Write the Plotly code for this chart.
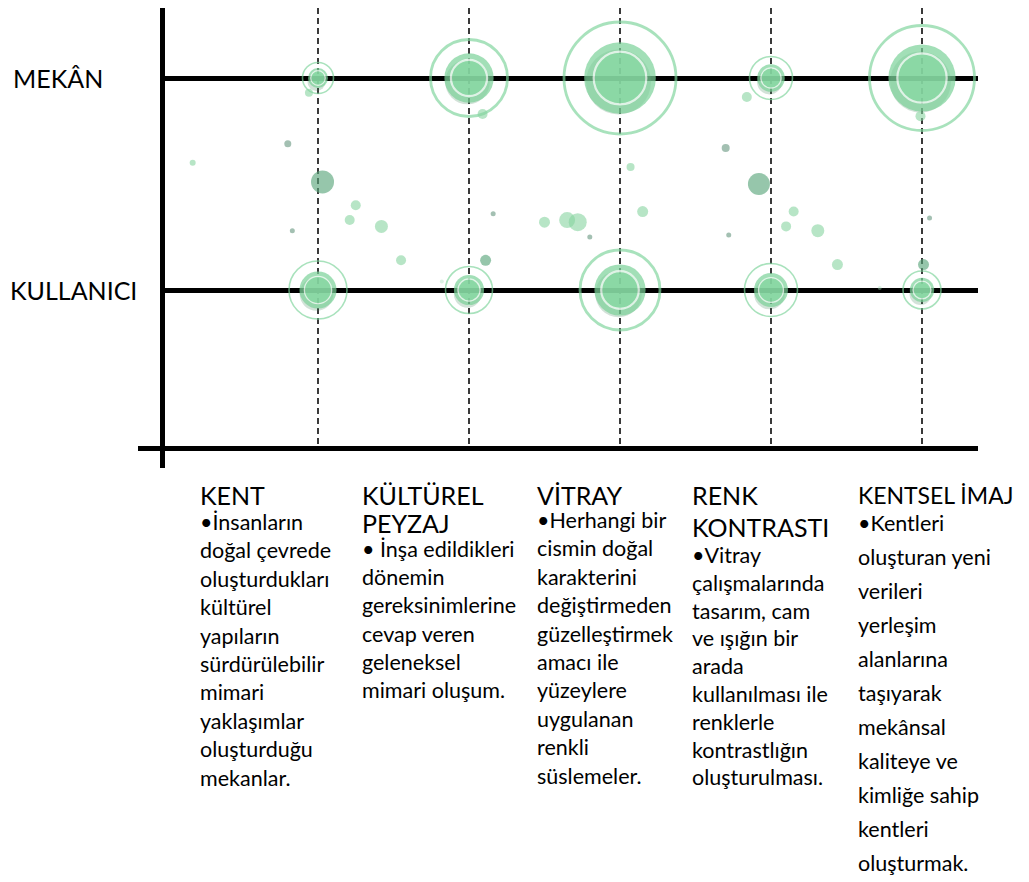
import plotly.graph_objects as go

# ---------------- data ----------------
categories = ["KENT", "KÜLTÜREL PEYZAJ", "VİTRAY", "RENK KONTRASTI", "KENTSEL İMAJ"]
rows = ["KULLANICI", "MEKÂN"]          # y = 0, 1

# bubble scores (outer ring) per category
mekan_score = [3.1, 7.7, 11.2, 4.3, 10.5]
kullanici_score = [5.8, 4.7, 8.0, 5.3, 3.8]

# scattered dots between rows (x in category units, y in row units)
dot_x = [-0.83, -0.20, 0.03, 0.25, 0.21, 0.42, -0.17, 0.55, 1.11, 1.16, 1.50, 1.65, 1.72, 1.80,
         2.07, 2.15, 2.70, 2.92, 2.72, 3.15, 3.10, 3.31, 3.44, 4.05, 4.01, 3.72, 0.82,
         -0.06, 1.09, 2.84, 3.99]
dot_y = [0.60, 0.69, 0.51, 0.40, 0.33, 0.30, 0.28, 0.14, 0.14, 0.36, 0.32, 0.33, 0.32, 0.25,
         0.58, 0.37, 0.67, 0.50, 0.26, 0.37, 0.30, 0.28, 0.12, 0.34, 0.12, 0.01, 0.04,
         0.93, 0.83, 0.91, 0.82]
dot_w = [3, 3.5, 11.5, 5, 5, 6.5, 2.5, 5, 5.5, 2.5, 5.5, 8, 9, 2.5,
         4, 5.5, 4, 11, 2.5, 5, 5, 6.5, 5.5, 2.5, 5.5, 2, 2,
         4, 5, 5, 5]
dot_kind = ["L", "D", "M", "L", "L", "L", "D", "L", "M", "D", "L", "L", "L", "D",
            "L", "L", "D", "M", "D", "L", "L", "L", "L", "D", "M", "F", "F",
            "L", "L", "L", "L"]

col_titles = [["KENT"], ["KÜLTÜREL", "PEYZAJ"], ["VİTRAY"], ["RENK", "KONTRASTI"], ["KENTSEL İMAJ"]]
col_bodies = [
    ["•İnsanların", "doğal çevrede", "oluşturdukları", "kültürel", "yapıların",
     "sürdürülebilir", "mimari", "yaklaşımlar", "oluşturduğu", "mekanlar."],
    ["• İnşa edildikleri", "dönemin", "gereksinimlerine", "cevap veren", "geleneksel",
     "mimari oluşum."],
    ["•Herhangi bir", "cismin doğal", "karakterini", "değiştirmeden", "güzelleştirmek",
     "amacı ile", "yüzeylere", "uygulanan", "renkli", "süslemeler."],
    ["•Vitray", "çalışmalarında", "tasarım, cam", "ve ışığın bir", "arada",
     "kullanılması ile", "renklerle", "kontrastlığın", "oluşturulması."],
    ["•Kentleri", "oluşturan yeni", "verileri", "yerleşim", "alanlarına", "taşıyarak",
     "mekânsal", "kaliteye ve", "kimliğe sahip", "kentleri", "oluşturmak."],
]

# ---------------- geometry / style ----------------
PAGE_W, PAGE_H = 1029, 882
OFF = 8                      # default body margin of the html page
W, H = PAGE_W - OFF, PAGE_H - OFF
FONT = "Lato"
px_size = 10.0               # px per score unit
cat_idx = list(range(len(categories)))

X0, X1 = 165, 978            # plot area in page px
Y0, Y1 = OFF, 446
def py(p):                   # page pixel y -> paper y
    return min(1.0, max(0.0, (H - (p - OFF)) / H))
def pxr(p):                  # page pixel x -> paper x
    return min(1.0, max(0.0, (p - OFF) / W))

row_px = {0: 290, 1: 78}
span = row_px[0] - row_px[1]
col_px0, col_step = 318, 151

fig = go.Figure()

ring_col = "rgba(125,212,155,0.95)"
disc_col = "#7bd298"
inner_col = "#88d9a3"
shadow_col = "rgba(70,135,95,0.35)"

for rv, scores in ((1, mekan_score), (0, kullanici_score)):
    sizes = [s * px_size for s in scores]
    ys = [rv] * len(cat_idx)
    fig.add_trace(go.Scatter(x=cat_idx, y=ys, mode="markers", hoverinfo="skip",
                             marker=dict(size=sizes, color="rgba(0,0,0,0)",
                                         line=dict(color=ring_col, width=[2.8 if s > 60 else 1.6 for s in sizes]))))
    # soft shadow under the disc (shifted a few px down)
    fig.add_trace(go.Scatter(x=[c - 1.5 / col_step for c in cat_idx], y=[rv - 4 / span] * len(cat_idx),
                             mode="markers", hoverinfo="skip",
                             marker=dict(size=[s * 0.58 for s in sizes], color=shadow_col,
                                         line=dict(width=0))))
    fig.add_trace(go.Scatter(x=cat_idx, y=ys, mode="markers", hoverinfo="skip",
                             marker=dict(size=[s * 0.64 for s in sizes], color=disc_col,
                                         line=dict(width=0))))
    fig.add_trace(go.Scatter(x=cat_idx, y=ys, mode="markers", hoverinfo="skip",
                             marker=dict(size=[s * 0.47 for s in sizes], color=inner_col,
                                         line=dict(color="white", width=[2.2 if s > 60 else 1.3 for s in sizes]))))

kind_col = {"L": "rgba(135,212,160,0.85)", "M": "rgba(88,165,122,0.9)",
            "D": "rgba(100,150,125,0.85)", "F": "rgba(165,220,185,0.55)"}
fig.add_trace(go.Scatter(x=dot_x, y=dot_y, mode="markers", hoverinfo="skip",
                         marker=dict(size=[w * 2 for w in dot_w],
                                     color=[kind_col[k] for k in dot_kind],
                                     line=dict(width=0))))

# ---------------- axes ----------------
y_lo = (row_px[0] - Y1) / span
y_hi = (row_px[0] - Y0) / span
x_lo = (X0 - col_px0) / col_step
x_hi = (X1 - col_px0) / col_step

fig.update_xaxes(domain=[pxr(X0), pxr(X1)], range=[x_lo, x_hi], tickvals=cat_idx,
                 showticklabels=False, ticks="", showgrid=True, gridcolor="#3a3a3a",
                 gridwidth=1.6, griddash="6px,4px", zeroline=False,
                 showline=True, linecolor="black", linewidth=5)
fig.update_yaxes(domain=[py(Y1), py(Y0)], range=[y_lo, y_hi], tickvals=[0, 1],
                 showticklabels=False, ticks="", showgrid=True, gridcolor="black",
                 gridwidth=5, zeroline=False, showline=True, linecolor="black", linewidth=5)

# axis extensions
fig.add_shape(type="line", xref="paper", yref="paper", x0=pxr(138), x1=pxr(X0),
              y0=py(Y1 + 2.5), y1=py(Y1 + 2.5), line=dict(color="black", width=5))
fig.add_shape(type="line", xref="paper", yref="paper", x0=pxr(X0 - 2.5), x1=pxr(X0 - 2.5),
              y0=py(Y1), y1=py(468), line=dict(color="black", width=5))

# row labels
fig.add_annotation(text="MEKÂN", x=pxr(11), xref="paper", xanchor="left", y=1, yref="y",
                   yanchor="middle", showarrow=False, font=dict(family=FONT, size=25, color="black"))
fig.add_annotation(text="KULLANICI", x=pxr(8), xref="paper", xanchor="left", y=0, yref="y",
                   yanchor="middle", showarrow=False, font=dict(family=FONT, size=25, color="black"))

# column texts
col_left = [198, 360, 535, 690, 856]
title_size = [25, 25, 25, 25, 23]
title_step = [28, 28, 28, 32, 28]
body_start = [522, 549, 520, 555, 523]
body_step = [28.4, 28.2, 28.4, 27.8, 34.0]
for i in range(len(categories)):
    for j, t in enumerate(col_titles[i]):
        fig.add_annotation(text=t, x=pxr(col_left[i]), xref="paper", xanchor="left",
                           y=py(495 + j * title_step[i]), yref="paper", yanchor="middle",
                           showarrow=False, font=dict(family=FONT, size=title_size[i], color="black"))
    for j, t in enumerate(col_bodies[i]):
        fig.add_annotation(text=t, x=pxr(col_left[i]), xref="paper", xanchor="left",
                           y=py(body_start[i] + j * body_step[i]), yref="paper", yanchor="middle",
                           showarrow=False, font=dict(family=FONT, size=21.5, color="black"))

fig.update_layout(width=W, height=H, margin=dict(l=0, r=0, t=0, b=0),
                  paper_bgcolor="white", plot_bgcolor="white", showlegend=False)

fig.write_html("out.html")
